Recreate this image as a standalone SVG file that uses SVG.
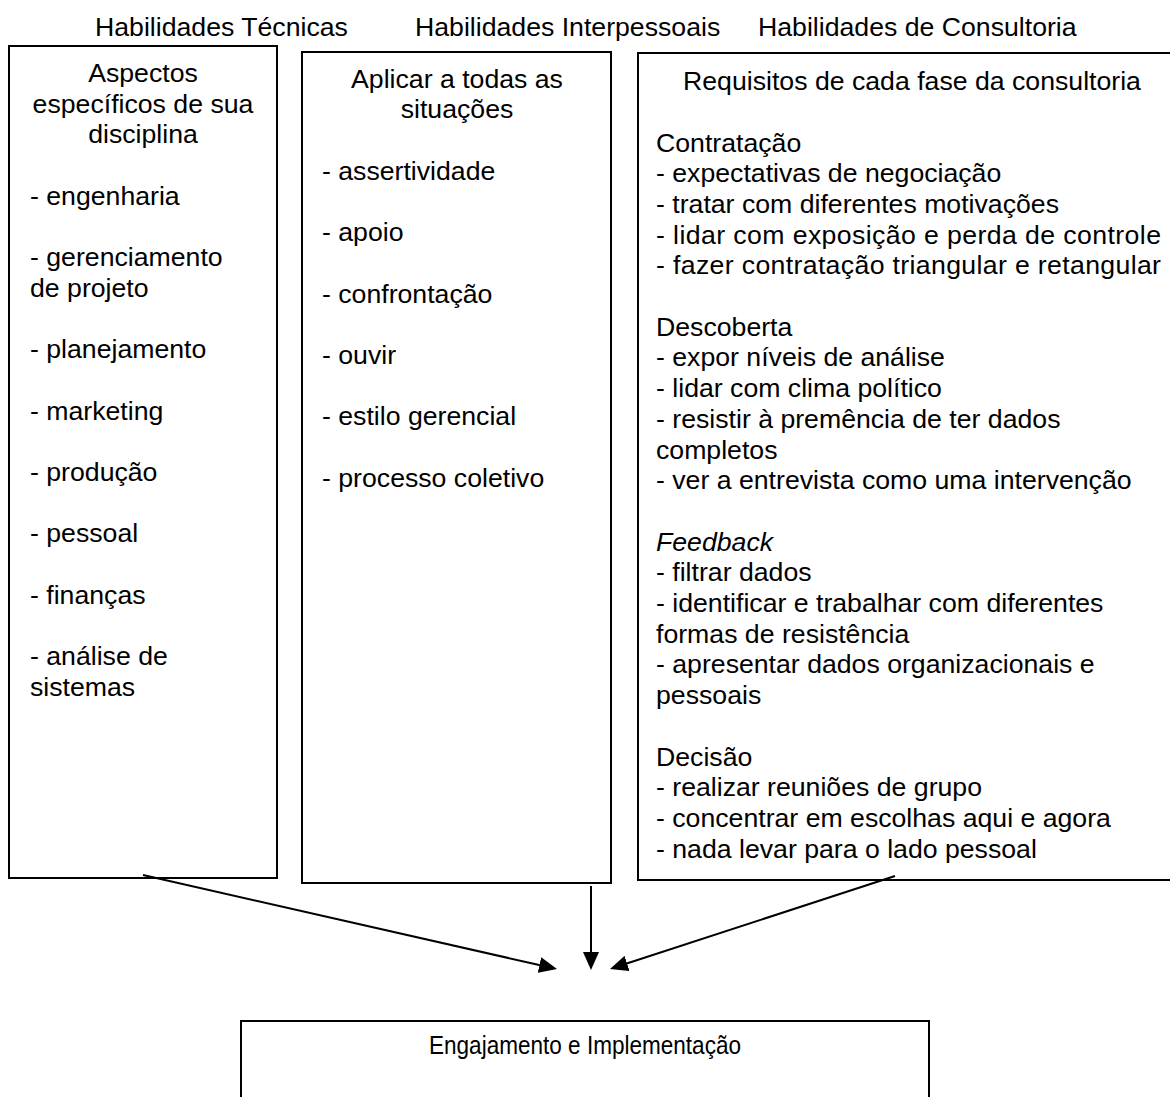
<svg xmlns="http://www.w3.org/2000/svg" width="1170" height="1097" viewBox="0 0 1170 1097">
  <style>
    text { font-family: "Liberation Sans", Arial, sans-serif; font-size: 26.67px; fill: #000; }
    .c { text-anchor: middle; }
    .box { fill: #fff; stroke: #000; stroke-width: 2; }
    .link { stroke: #000; stroke-width: 2; fill: none; marker-end: url(#arrow); }
  </style>
  <defs>
    <marker id="arrow" markerUnits="userSpaceOnUse" viewBox="0 0 18 16" markerWidth="18" markerHeight="16" refX="2" refY="8" orient="auto">
      <path d="M0,0 L18,8 L0,16 z" fill="#000"/>
    </marker>
  </defs>
  <rect width="1170" height="1097" fill="#fff"/>

  <!-- column headings -->
  <g id="headings">
    <text x="95" y="36">Habilidades Técnicas</text>
    <text x="415" y="36">Habilidades Interpessoais</text>
    <text x="758" y="36">Habilidades de Consultoria</text>
  </g>

  <!-- technical skills -->
  <g id="tecnicas">
    <rect class="box" x="9" y="46" width="268" height="832"/>
    <text class="c" x="143" y="82">Aspectos</text>
    <text class="c" x="143" y="112.5">específicos de sua</text>
    <text class="c" x="143" y="143">disciplina</text>
    <text x="30" y="204.5">- engenharia</text>
    <text x="30" y="266">- gerenciamento</text>
    <text x="30" y="296.5">de projeto</text>
    <text x="30" y="358">- planejamento</text>
    <text x="30" y="419.5">- marketing</text>
    <text x="30" y="481">- produção</text>
    <text x="30" y="542">- pessoal</text>
    <text x="30" y="603.5">- finanças</text>
    <text x="30" y="665">- análise de</text>
    <text x="30" y="695.5">sistemas</text>
  </g>

  <!-- interpersonal skills -->
  <g id="interpessoais">
    <rect class="box" x="302" y="52" width="309" height="831"/>
    <text class="c" x="457" y="87.5">Aplicar a todas as</text>
    <text class="c" x="457" y="118">situações</text>
    <text x="322" y="180">- assertividade</text>
    <text x="322" y="241">- apoio</text>
    <text x="322" y="302.5">- confrontação</text>
    <text x="322" y="364">- ouvir</text>
    <text x="322" y="425">- estilo gerencial</text>
    <text x="322" y="486.5">- processo coletivo</text>
  </g>

  <!-- consulting skills -->
  <g id="consultoria">
    <rect class="box" x="638" y="53" width="540" height="827"/>
    <text class="c" x="912" y="90">Requisitos de cada fase da consultoria</text>
    <text x="656" y="151.5">Contratação</text>
    <text x="656" y="182">- expectativas de negociação</text>
    <text x="656" y="213">- tratar com diferentes motivações</text>
    <text x="656" y="243.5" textLength="505" lengthAdjust="spacing">- lidar com exposição e perda de controle</text>
    <text x="656" y="274" textLength="505" lengthAdjust="spacing">- fazer contratação triangular e retangular</text>
    <text x="656" y="335.5">Descoberta</text>
    <text x="656" y="366">- expor níveis de análise</text>
    <text x="656" y="397">- lidar com clima político</text>
    <text x="656" y="427.5">- resistir à premência de ter dados</text>
    <text x="656" y="458.5">completos</text>
    <text x="656" y="489">- ver a entrevista como uma intervenção</text>
    <text x="656" y="550.5" font-style="italic">Feedback</text>
    <text x="656" y="581">- filtrar dados</text>
    <text x="656" y="612">- identificar e trabalhar com diferentes</text>
    <text x="656" y="642.5">formas de resistência</text>
    <text x="656" y="673">- apresentar dados organizacionais e</text>
    <text x="656" y="704">pessoais</text>
    <text x="656" y="765.5">Decisão</text>
    <text x="656" y="796">- realizar reuniões de grupo</text>
    <text x="656" y="827">- concentrar em escolhas aqui e agora</text>
    <text x="656" y="857.5">- nada levar para o lado pessoal</text>
  </g>

  <!-- outcome -->
  <g id="engajamento">
    <rect class="box" x="241" y="1021" width="688" height="90"/>
    <text class="c" x="585" y="1054" textLength="312" lengthAdjust="spacingAndGlyphs">Engajamento e Implementação</text>
  </g>

  <!-- connectors -->
  <g id="connectors">
    <line class="link" x1="143" y1="875" x2="541.4" y2="965.5"/>
    <line class="link" x1="591" y1="886" x2="591" y2="954"/>
    <line class="link" x1="895" y1="876" x2="625.2" y2="964.0"/>
  </g>
</svg>
